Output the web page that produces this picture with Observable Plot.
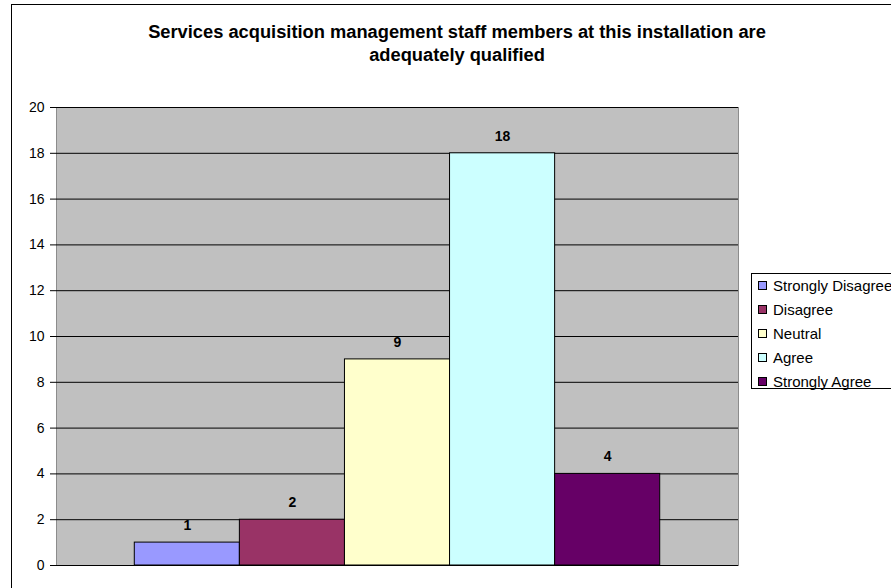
<!DOCTYPE html>
<html><head><meta charset="utf-8">
<script src="https://cdn.jsdelivr.net/npm/d3@7"></script>
<script src="https://cdn.jsdelivr.net/npm/@observablehq/plot@0.6"></script>
<style>
body{margin:0;background:#fff;overflow:hidden;font-family:"Liberation Sans",Arial,sans-serif;}
#wrap{position:relative;width:891px;height:588px;overflow:hidden;background:#fff;}
#border{position:absolute;left:11px;top:4px;width:1000px;height:1000px;border:1px solid #000;box-sizing:border-box;}
#title{position:absolute;left:11px;width:892px;top:20px;text-align:center;font-weight:bold;font-size:18.3px;line-height:23px;color:#000;}
#chart{position:absolute;left:0;top:0;}
#legend{position:absolute;left:751px;top:273px;width:200px;height:116px;border:1px solid #000;box-sizing:border-box;background:#fff;}
.item{position:absolute;left:6px;height:18px;font-size:15px;line-height:18px;white-space:nowrap;color:#000;}
.sw{display:inline-block;width:7px;height:7px;border:1px solid #000;margin-right:6px;vertical-align:1px;}
</style></head>
<body>
<div id="wrap">
  <div id="border"></div>
  <div id="chart"></div>
  <div id="title">Services acquisition management staff members at this installation are<br>adequately qualified</div>
  <div id="legend"></div>
</div>
<script>
const categories = ["Strongly Disagree","Disagree","Neutral","Agree","Strongly Agree"];
const counts = [1, 2, 9, 18, 4];
const colors = ["#9999FF","#993366","#FFFFCC","#CCFFFF","#660066"];
const yTicks = [0,2,4,6,8,10,12,14,16,18,20];

const data = categories.map((c,i)=>({cat:c, v:counts[i]}));

const chart = Plot.plot({
  width: 891, height: 588,
  marginLeft: 56, marginRight: 153, marginTop: 107, marginBottom: 23,
  style: {fontFamily: "'Liberation Sans', Arial, sans-serif", fontSize: "14px", background: "transparent", color: "#000"},
  x: {domain: categories, paddingInner: 0, paddingOuter: 0.745, round: false, axis: null},
  y: {domain: [0, 20], axis: null},
  color: {domain: categories, range: colors},
  marks: [
    Plot.frame({fill: "#C0C0C0", stroke: "#8c8c8c"}),
    Plot.gridY(yTicks, {stroke: "#000", strokeOpacity: 1}),
    Plot.axisY(yTicks, {anchor: "left", tickSize: 6, tickPadding: 6, fontSize: 14, stroke: "#000", fill: "#000", label: null, tickFormat: d => String(d)}),
    Plot.barY(data, {x: "cat", y: "v", fill: "cat", stroke: "#000", strokeWidth: 1}),
    Plot.text(data, {x: "cat", y: "v", text: d => String(d.v), dy: -17, fontWeight: "bold", fontSize: 14, fill: "#000"})
  ]
});
document.getElementById("chart").appendChild(chart);

const leg = document.getElementById("legend");
categories.forEach((c,i)=>{
  const it = document.createElement("div");
  it.className = "item";
  it.style.top = (3 + i*24) + "px";
  const sw = document.createElement("span");
  sw.className = "sw";
  sw.style.background = colors[i];
  it.appendChild(sw);
  it.appendChild(document.createTextNode(c));
  leg.appendChild(it);
});
</script>
</body></html>
